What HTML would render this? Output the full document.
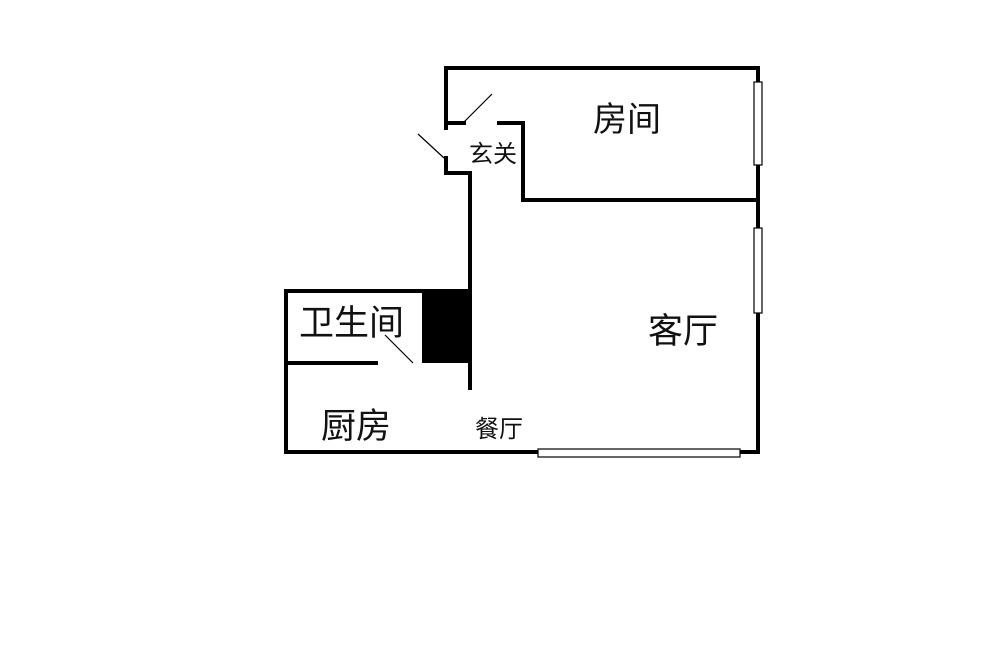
<!DOCTYPE html>
<html><head><meta charset="utf-8"><style>
body{margin:0;background:#fff;width:1000px;height:656px;overflow:hidden}
svg text{font-family:"Liberation Sans","Noto Sans CJK SC",sans-serif;fill:#111}
</style></head><body>
<svg width="1000" height="656" viewBox="0 0 1000 656" xmlns="http://www.w3.org/2000/svg">
<g stroke="#000" stroke-width="4" fill="none" stroke-linecap="square">
<polyline points="446,128 446,68 758,68 758,452 286,452 286,291 470,291"/>
<polyline points="446,123 464,123"/>
<polyline points="499,123 523,123 523,200 758,200"/>
<polyline points="446,158 446,173 470,173 470,388"/>
<line x1="288" y1="363" x2="376" y2="363"/>
</g>
<rect x="422" y="291" width="48" height="72" fill="#000"/>
<g stroke="#000" stroke-width="1.2">
<line x1="464" y1="122" x2="492" y2="94"/>
<line x1="418" y1="134" x2="444" y2="158"/>
<line x1="385" y1="335" x2="413" y2="363"/>
</g>
<g stroke="#000" stroke-width="1.2" fill="#fff">
<rect x="754" y="82" width="8" height="83"/>
<rect x="754" y="228" width="8" height="85"/>
<rect x="538" y="449" width="202" height="8"/>
</g>
<text x="593" y="131" font-size="34">房间</text>
<text x="469" y="162" font-size="24">玄关</text>
<text x="299" y="335" font-size="35">卫生间</text>
<text x="648" y="343" font-size="35">客厅</text>
<text x="321" y="438" font-size="35">厨房</text>
<text x="475" y="437" font-size="24">餐厅</text>
</svg>
</body></html>
